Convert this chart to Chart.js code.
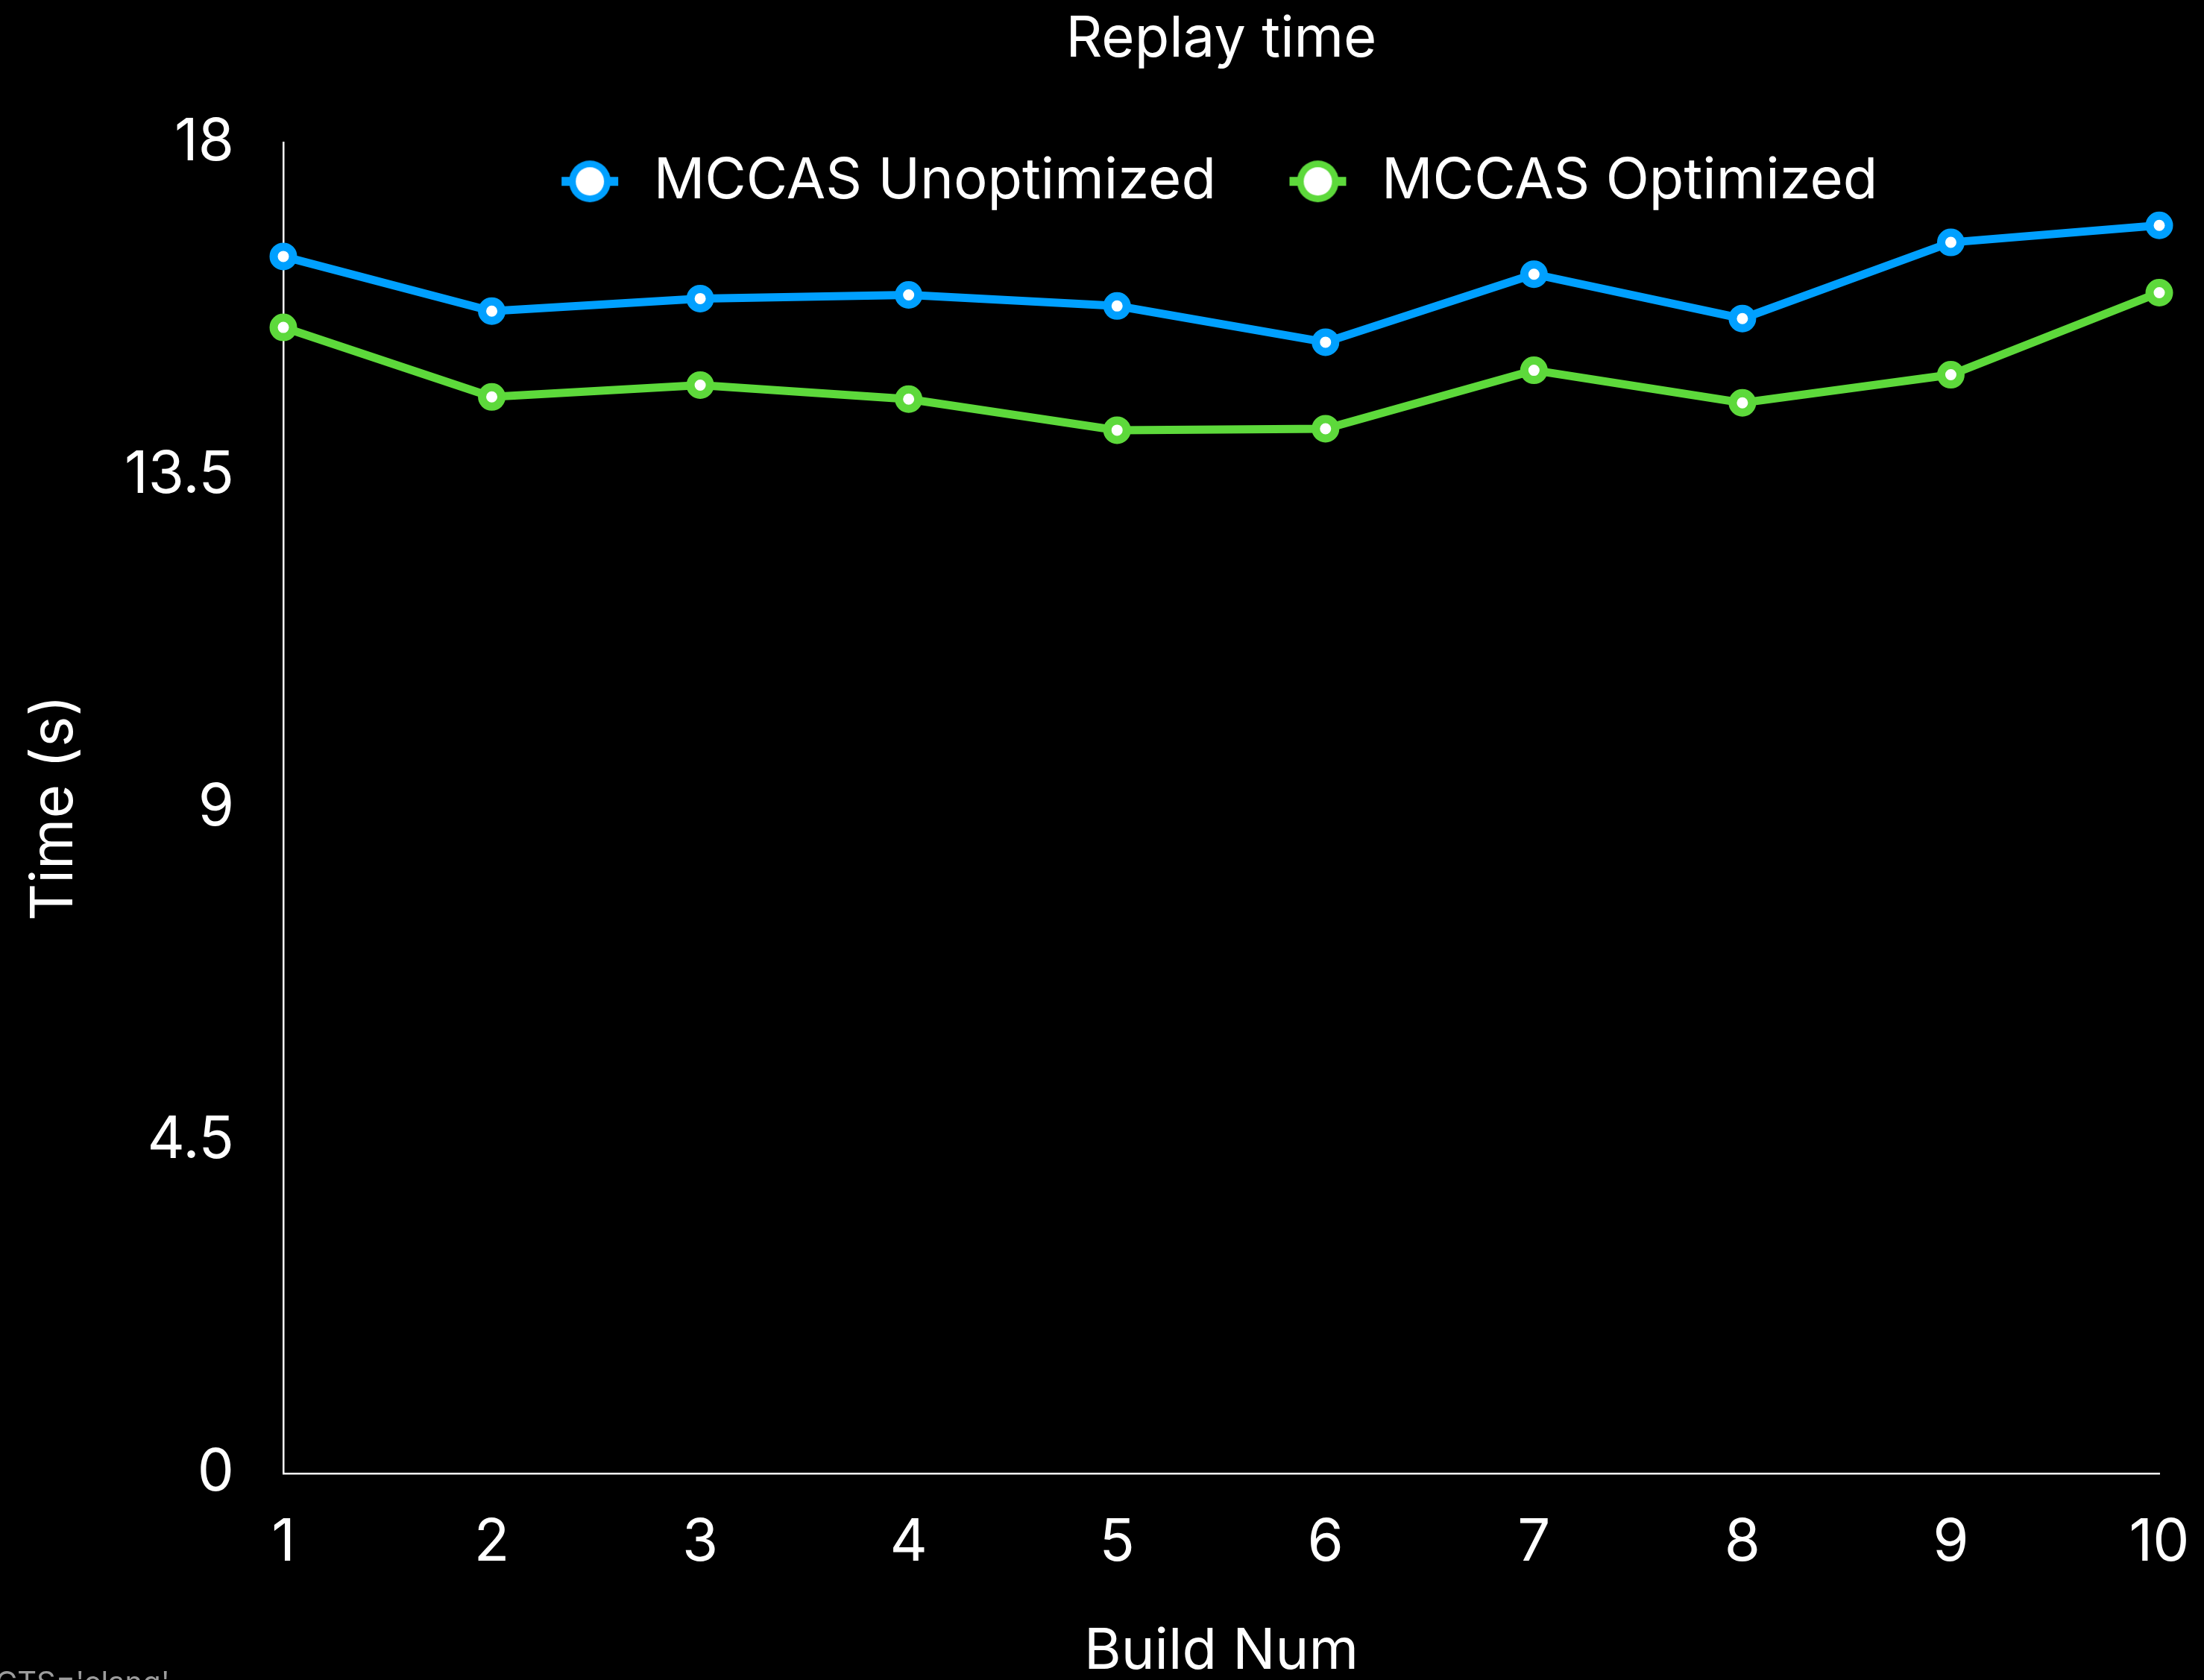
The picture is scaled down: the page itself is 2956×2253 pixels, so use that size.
<!DOCTYPE html>
<html>
<head>
<meta charset="utf-8">
<title>Replay time</title>
<script src="https://cdn.jsdelivr.net/npm/chart.js@4/dist/chart.umd.min.js"></script>
<style>
  html, body { margin: 0; padding: 0; background: #000; overflow: hidden; width: 2956px; height: 2253px; }
  #wrap { position: relative; width: 2956px; height: 2253px; overflow: hidden; }
  canvas { display: block; }
  #note { position: absolute; left: -6px; top: 2236px; font: 40px/40px Inter, sans-serif; color: #9c9c9c; white-space: nowrap; }
</style>
</head>
<body>
<div id="wrap">
  <canvas id="chart" width="2956" height="2253"></canvas>
  <div id="note">CTS='clang'</div>
</div>
<script>
// Build numbers on the x axis
const buildNums = ['1', '2', '3', '4', '5', '6', '7', '8', '9', '10'];
// Replay time in seconds for each build
const unoptimized = [16.46, 15.72, 15.89, 15.94, 15.79, 15.30, 16.22, 15.62, 16.65, 16.88];
const optimized   = [15.50, 14.56, 14.72, 14.53, 14.11, 14.13, 14.92, 14.48, 14.86, 15.97];
// Y axis ticks
const yTickValues = [0, 4.5, 9, 13.5, 18];
const yTickLabels = ['0', '4.5', '9', '13.5', '18'];

const BLUE = '#00a0ff';
const GREEN = '#5dd93b';
const FONT = 'Inter';

const LEGEND_FONT = 76;
const LEGEND_PAD = 89;

// Legend marker: short line stub through a ring with a white centre
function legendMarker(color) {
  const c = document.createElement('canvas');
  c.width = 80; c.height = 60;
  const g = c.getContext('2d');
  g.fillStyle = color;
  g.fillRect(2, 24, 76, 12);
  g.beginPath(); g.arc(40, 30, 28, 0, Math.PI * 2); g.fill();
  g.fillStyle = '#fff';
  g.beginPath(); g.arc(40, 30, 19, 0, Math.PI * 2); g.fill();
  return c;
}
const markers = [legendMarker(BLUE), legendMarker(GREEN)];

// The legend takes (almost) no layout height; move it so it sits
// just below the top of the y axis, inside the plot, and give its
// box the full row height so nothing is clipped
const legendLift = {
  id: 'legendLift',
  afterLayout(chart) {
    const lg = chart.legend;
    if (!lg) return;
    lg.top -= 74;
    lg.bottom = lg.top + LEGEND_PAD * 2 + LEGEND_FONT;
    lg.height = lg.bottom - lg.top;
    lg.left -= 7;
    lg.right -= 7;
  }
};

Chart.defaults.color = '#ffffff';
Chart.defaults.font.family = FONT;

new Chart(document.getElementById('chart'), {
  type: 'line',
  data: {
    labels: buildNums,
    datasets: [
      {
        label: 'MCCAS Unoptimized',
        data: unoptimized,
        borderColor: BLUE,
        backgroundColor: BLUE,
        borderWidth: 11,
        pointRadius: 13,
        pointBorderWidth: 11,
        pointBackgroundColor: '#ffffff',
        pointBorderColor: BLUE,
        tension: 0,
        clip: false
      },
      {
        label: 'MCCAS Optimized',
        data: optimized,
        borderColor: GREEN,
        backgroundColor: GREEN,
        borderWidth: 11,
        pointRadius: 13,
        pointBorderWidth: 11,
        pointBackgroundColor: '#ffffff',
        pointBorderColor: GREEN,
        tension: 0,
        clip: false
      }
    ]
  },
  options: {
    responsive: false,
    devicePixelRatio: 1,
    animation: false,
    layout: { padding: { left: 0, right: 60, top: 0, bottom: 0 } },
    plugins: {
      title: {
        display: true,
        fullSize: false,
        text: 'Replay time',
        color: '#ffffff',
        font: { family: FONT, size: 76, weight: 'normal', lineHeight: 1.2 },
        padding: { top: 8, bottom: 91 }
      },
      legend: {
        position: 'top',
        align: 'center',
        fullSize: false,
        maxHeight: 1,
        labels: {
          color: '#ffffff',
          font: { family: FONT, size: LEGEND_FONT },
          usePointStyle: true,
          pointStyleWidth: 95,
          padding: LEGEND_PAD,
          generateLabels(chart) {
            const items = Chart.defaults.plugins.legend.labels.generateLabels(chart);
            items.forEach((it, i) => { it.pointStyle = markers[i]; });
            return items;
          }
        }
      },
      tooltip: { enabled: false }
    },
    scales: {
      x: {
        type: 'category',
        offset: false,
        grid: { display: false, drawTicks: true, tickLength: 47 },
        border: { display: true, color: '#ffffff', width: 2.5 },
        ticks: { color: '#ffffff', font: { family: FONT, size: 78 }, padding: 0, maxRotation: 0, autoSkip: false },
        title: {
          display: true,
          text: 'Build Num',
          color: '#ffffff',
          font: { family: FONT, size: 76, lineHeight: 1 },
          padding: { top: 0, bottom: 0 }
        },
        afterFit(scale) { scale.height = 277; }
      },
      y: {
        min: 0,
        max: 18,
        grid: { display: false, drawTicks: false },
        border: { display: true, color: '#ffffff', width: 2.5 },
        afterBuildTicks(scale) { scale.ticks = yTickValues.map(v => ({ value: v })); },
        ticks: {
          color: '#ffffff',
          font: { family: FONT, size: 78 },
          padding: 66,
          callback: (v, i) => yTickLabels[i]
        },
        title: {
          display: true,
          text: 'Time (s)',
          color: '#ffffff',
          font: { family: FONT, size: 78, lineHeight: 1 },
          padding: { top: 35, bottom: 0 }
        },
        afterFit(scale) { scale.width = 380; }
      }
    }
  },
  plugins: [legendLift]
});
</script>
</body>
</html>
